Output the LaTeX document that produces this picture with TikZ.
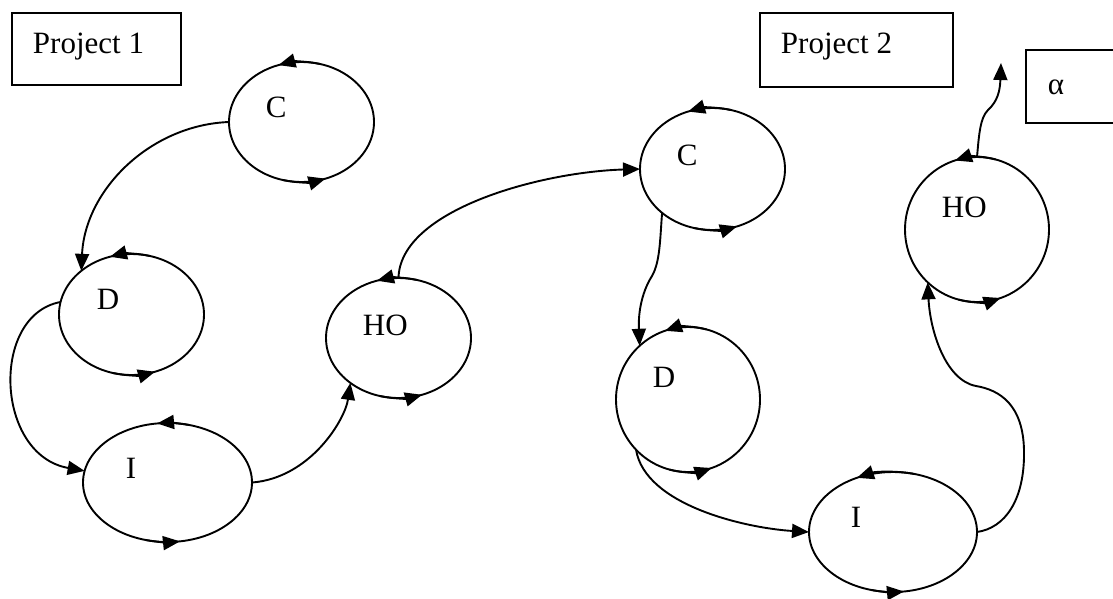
\documentclass[tikz,border=0pt]{standalone}
\usepackage{fontspec}
\setmainfont{Liberation Serif}
\usetikzlibrary{shapes.geometric, arrows.meta}
\newcommand\cyclemarks[5]{%
  \draw[tipped] (#1.center) ++(285:#2 and #3) arc[start angle=285, end angle=#4, x radius=#2, y radius=#3];
  \draw[tipped] (#1.center) ++(105:#2 and #3) arc[start angle=105, end angle=#5, x radius=#2, y radius=#3];}
\begin{document}
\begin{tikzpicture}[x=1pt,y=-1pt, line width=1.9pt,
  phase/.style={draw, ellipse, inner sep=0pt, outer sep=0pt},
  lbl/.style={anchor=base west, inner sep=0pt, font=\fontsize{31}{36}\selectfont},
  boxx/.style={draw, rectangle, inner sep=0pt, outer sep=0pt, anchor=north west, line width=1.9pt},
  tipped/.style={-{Triangle[length=17pt,width=14pt]}}]
\useasboundingbox (0,0) rectangle (1113,598);
\clip (0,0) rectangle (1113,598);
% boxes
\node[boxx, minimum width=169, minimum height=72] (p1) at (12,13) {};
\node[lbl] (p1t) at (32,53) {Project 1};
\node[boxx, minimum width=193, minimum height=74] (p2) at (760,13) {};
\node[lbl] (p2t) at (780,53) {Project 2};
\node[boxx, minimum width=120, minimum height=73] (ab) at (1026,50) {};
\node[lbl] (abt) at (1047,94) {α};
% phases
\node[phase, minimum width=145, minimum height=120] (c1) at (301.5,122) {};
\node[phase, minimum width=145, minimum height=121] (d1) at (131.5,314.5) {};
\node[phase, minimum width=169, minimum height=119] (i1) at (167.5,482.5) {};
\node[phase, minimum width=145, minimum height=120] (ho1) at (398.5,338) {};
\node[phase, minimum width=145, minimum height=122] (c2) at (712.5,169) {};
\node[phase, minimum width=144, minimum height=145] (d2) at (688,399.5) {};
\node[phase, minimum width=168, minimum height=120] (i2) at (893,532) {};
\node[phase, minimum width=144, minimum height=145] (ho2) at (977,229.5) {};
% labels
\node[lbl] (c1t) at (265,117) {C};
\node[lbl] (d1t) at (96,309) {D};
\node[lbl] (i1t) at (125,478) {I};
\node[lbl] (ho1t) at (362,335) {HO};
\node[lbl] (c2t) at (676,165) {C};
\node[lbl] (d2t) at (652,387) {D};
\node[lbl] (i2t) at (850,527) {I};
\node[lbl] (ho2t) at (941,217) {HO};
% cycle arrows on each phase
\cyclemarks{c1}{72.5}{60}{251.5}{70.7}
\cyclemarks{d1}{72.5}{60.5}{252.7}{71.1}
\cyclemarks{i1}{84.5}{59.5}{262.9}{81.5}
\cyclemarks{ho1}{72.5}{60}{252.7}{71.1}
\cyclemarks{c2}{72.5}{61}{250.3}{70.3}
\cyclemarks{d2}{72}{72.5}{251.4}{70.9}
\cyclemarks{i2}{84}{60}{244.6}{82.5}
\cyclemarks{ho2}{72}{72.5}{252.2}{70.9}
% connectors
\coordinate (aout) at (1001,63);
\draw[tipped] (c1.west) .. controls (150,125) and (85,190) .. (d1.139);
\draw[tipped] (d1.170) .. controls (-10,315) and (-5,455) .. (i1.172);
\draw[tipped] (i1.east) .. controls (310,478) and (345,420) .. (ho1.223);
\draw[tipped] (ho1.north) .. controls (400,210) and (540,172) .. (c2.west);
\draw[tipped] (c2.221) .. controls (660,240) and (660,262) .. (652,276) .. controls (643,290) and (638,310) .. (d2.132);
\draw[tipped] (d2.224) .. controls (645,505) and (745,528) .. (i2.west);
\draw[tipped] (i2.east) .. controls (1005,528) and (1025,500) .. (1024,450) .. controls (1023,405) and (1000,390) .. (976,386) .. controls (945,380) and (930,330) .. (ho2.227);
\draw[tipped] (ho2.north) .. controls (979,135) and (980,118) .. (988,110) .. controls (998,101) and (1000,90) .. (aout);
\end{tikzpicture}
\end{document}
